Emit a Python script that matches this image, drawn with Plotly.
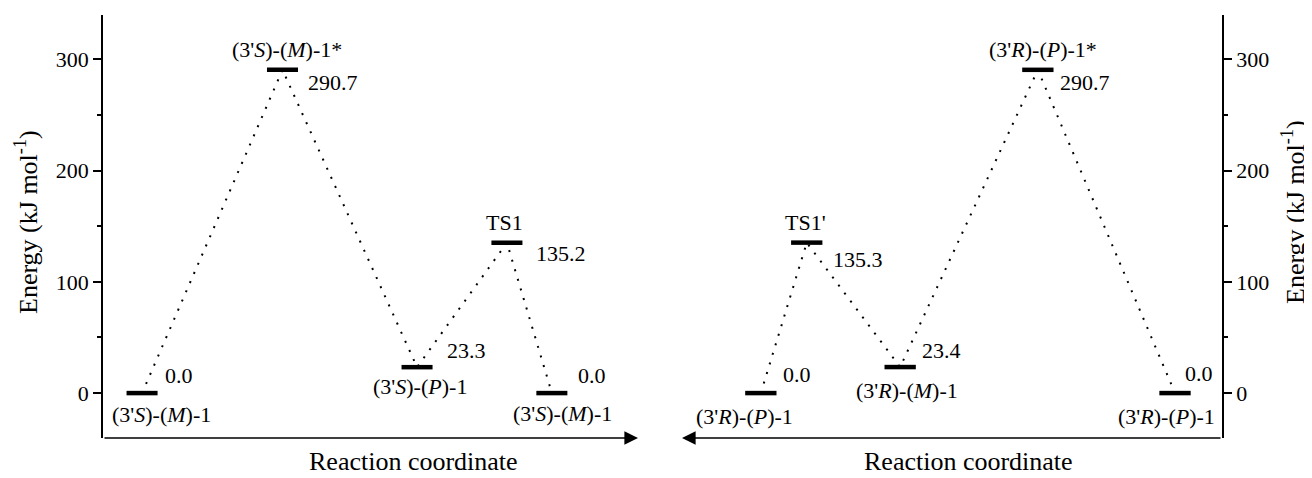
import plotly.graph_objects as go

# ---------------- data ----------------
left_names = ["(3'<i>S</i>)-(<i>M</i>)-1", "(3'<i>S</i>)-(<i>M</i>)-1*", "(3'<i>S</i>)-(<i>P</i>)-1",
              "TS1", "(3'<i>S</i>)-(<i>M</i>)-1"]
left_energy = [0.0, 290.7, 23.3, 135.2, 0.0]
left_pos = [7.3, 33.55, 58.7, 75.5, 83.9]          # reaction-coordinate position (0-100)

right_names = ["(3'<i>R</i>)-(<i>P</i>)-1", "TS1'", "(3'<i>R</i>)-(<i>M</i>)-1",
               "(3'<i>R</i>)-(<i>P</i>)-1*", "(3'<i>R</i>)-(<i>P</i>)-1"]
right_energy = [0.0, 135.3, 23.4, 290.7, 0.0]
right_pos = [14.6, 23.1, 40.4, 65.9, 91.3]

y_ticks = [0, 100, 200, 300]

# label placement offsets (px): name (dx, dy), value (dx, dy)
left_name_off = [(19, -21), (5, 20), (3, -19), (-2, 20), (11, -20)]
left_val_off = [(21, 18), (24, -13), (28, 17), (27, -11), (24, 18)]
right_name_off = [(-16, -23), (-1, 20), (7, -23), (5, 20), (-9, -23)]
right_val_off = [(20, 19), (24, -17), (20, 17), (20, -13), (8, 20)]

FONT = "Liberation Serif, Times New Roman, DejaVu Serif, serif"
# page body has an 8px margin; figure is drawn 8px smaller so it ends at the window edge
OFF = 8
FW, FH = 1312 - OFF, 478 - OFF
YR = [-40.4, 340]
HALF = 2.9


def px(x):
    return (x - OFF) / FW


def py(y):
    return 1 - (y - OFF) / FH


fig = go.Figure()


def add_panel(xref, yref, pos, energy, names, name_off, val_off):
    xs, ys = [], []
    for p, e in zip(pos, energy):
        xs += [p - HALF, p + HALF, None]
        ys += [e, e, None]
    fig.add_trace(go.Scatter(x=pos, y=energy, mode="lines", xaxis=xref, yaxis=yref,
                             line=dict(color="black", width=2, dash="2px,8px"),
                             hoverinfo="skip"))
    fig.add_trace(go.Scatter(x=xs, y=ys, mode="lines", xaxis=xref, yaxis=yref,
                             line=dict(color="black", width=4.5), hoverinfo="skip"))
    for p, e, n, no, vo in zip(pos, energy, names, name_off, val_off):
        fig.add_annotation(x=p, y=e, xref=xref, yref=yref, text=n, showarrow=False,
                           xanchor="center", yanchor="middle", xshift=no[0], yshift=no[1],
                           font=dict(family=FONT, size=22, color="black"))
        fig.add_annotation(x=p, y=e, xref=xref, yref=yref, text=f"{e:.1f}", showarrow=False,
                           xanchor="left", yanchor="middle", xshift=vo[0], yshift=vo[1],
                           font=dict(family=FONT, size=22, color="black"))


add_panel("x", "y", left_pos, left_energy, left_names, left_name_off, left_val_off)
add_panel("x2", "y2", right_pos, right_energy, right_names, right_name_off, right_val_off)

ydom = [py(438), py(15)]
yax = dict(range=YR, domain=ydom, showline=True, linecolor="black", linewidth=1.6,
           ticks="outside", ticklen=8, tickwidth=1.5, tickcolor="black",
           tickvals=y_ticks, showgrid=False, zeroline=False,
           minor=dict(ticks="outside", ticklen=4, tickwidth=1.5, tickcolor="black", dtick=50),
           tickfont=dict(family=FONT, size=22, color="black"))
xax = dict(range=[0, 100], showgrid=False, zeroline=False, showticklabels=False,
           showline=False, ticks="")

fig.update_layout(
    width=FW, height=FH, margin=dict(l=0, r=0, t=0, b=0),
    paper_bgcolor="white", plot_bgcolor="white", showlegend=False,
    font=dict(family=FONT, color="black"),
    xaxis=dict(xax, domain=[px(103), px(638)], anchor="y"),
    yaxis=dict(yax, anchor="x", side="left"),
    xaxis2=dict(xax, domain=[px(682), px(1222)], anchor="y2"),
    yaxis2=dict(yax, anchor="x2", side="right"),
)

# x-axis arrows
fig.add_annotation(x=100, y=YR[0], ax=0, ay=YR[0], xref="x", yref="y", axref="x", ayref="y",
                   text="", showarrow=True, arrowhead=2, arrowsize=1.7, arrowwidth=1.6,
                   arrowcolor="black", standoff=0, startstandoff=0)
fig.add_annotation(x=0, y=YR[0], ax=100, ay=YR[0], xref="x2", yref="y2", axref="x2", ayref="y2",
                   text="", showarrow=True, arrowhead=2, arrowsize=1.7, arrowwidth=1.6,
                   arrowcolor="black", standoff=0, startstandoff=0)

# axis titles
title_font = dict(family=FONT, size=26, color="black")
for xp_, yp_ in [(413, 461), (968, 461)]:
    fig.add_annotation(x=px(xp_), y=py(yp_), xref="paper", yref="paper", text="Reaction coordinate",
                       showarrow=False, xanchor="center", yanchor="middle", font=title_font)
for xp_, yp_ in [(26, 222), (1294, 212)]:
    fig.add_annotation(x=px(xp_), y=py(yp_), xref="paper", yref="paper",
                       text="Energy (kJ mol<sup>-1</sup>)", textangle=-90,
                       showarrow=False, xanchor="center", yanchor="middle", font=title_font)

fig.write_html("out.html")
